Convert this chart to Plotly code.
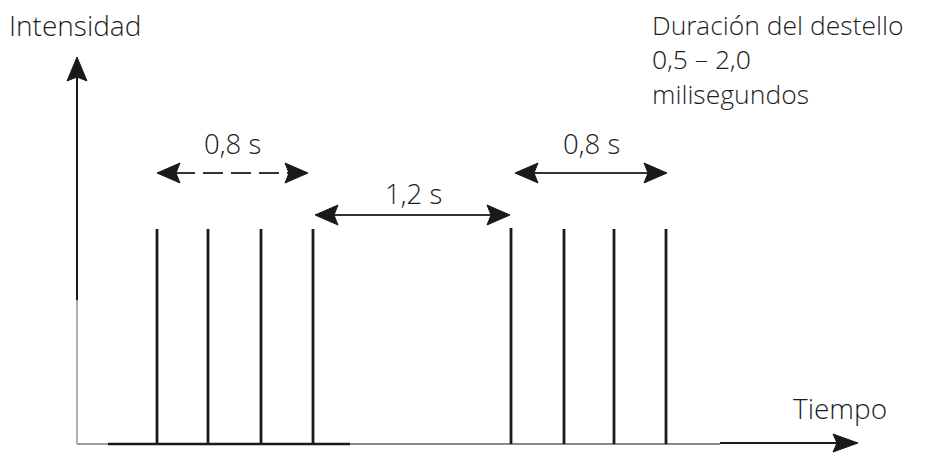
import plotly.graph_objects as go

# ---- data (schematic units: x = time position, y = intensity) ----
flash_times = [157, 208, 261, 313, 511, 564, 614, 666]
flash_intensity = [215, 215, 215, 215, 216, 215, 215, 215]

interval_start = [157, 315, 515]
interval_end = [308, 510, 667]
interval_level = [271, 229, 271]
interval_labels = ["0,8 s", "1,2 s", "0,8 s"]
interval_label_x = [232, 413, 591]
interval_label_y = [301, 251, 301]
interval_dashed = [True, False, False]

duration_lines = ["Duración del destello", "0,5 – 2,0", "milisegundos"]

axis_origin = (77, 0)
axis_x_end = 858
axis_y_end = 387

W, H = 930, 453
X_RANGE = [0, 930]
Y_RANGE = [-9, 444]

FONT = "Open Sans Light, Open Sans, Liberation Sans, Arial, sans-serif"
INK = "#1a1a1a"

fig = go.Figure()


def head(tip_x, tip_y, dx, dy, length, half, notch=4):
    # arrowhead pointing in direction (dx, dy)
    bx, by = tip_x - dx * length, tip_y - dy * length
    px, py = -dy, dx
    nx, ny = tip_x - dx * (length - notch), tip_y - dy * (length - notch)
    xs = [tip_x, bx + px * half, nx, bx - px * half, tip_x]
    ys = [tip_y, by + py * half, ny, by - py * half, tip_y]
    fig.add_trace(go.Scatter(x=xs, y=ys, mode="lines", fill="toself",
                             fillcolor=INK, line=dict(color=INK, width=1),
                             hoverinfo="skip", showlegend=False))


def seg(x0, y0, x1, y1, color=INK, width=2, dash="solid"):
    fig.add_trace(go.Scatter(x=[x0, x1], y=[y0, y1], mode="lines",
                             line=dict(color=color, width=width, dash=dash),
                             hoverinfo="skip", showlegend=False))


# ---- axes (drawn as arrows) ----
ox, oy = axis_origin
seg(ox, oy, ox, 144, color="#b0b0b0", width=2)
seg(ox, 144, ox, axis_y_end - 20, color=INK, width=2)
head(ox, axis_y_end, 0, 1, 24, 10)
seg(ox, oy, 108, oy, color="#a0a0a0", width=2)
seg(108, oy, 350, oy, color=INK, width=2.5)
seg(350, oy, 720, oy, color="#8a8a8a", width=2)
seg(720, oy + 1, axis_x_end - 20, oy + 1, color=INK, width=2)
head(axis_x_end, oy + 1, 1, 0, 25, 9)

# ---- flashes ----
fx, fy = [], []
for t, v in zip(flash_times, flash_intensity):
    fx += [t, t, None]
    fy += [0, v, None]
fig.add_trace(go.Scatter(x=fx, y=fy, mode="lines",
                         line=dict(color=INK, width=2.8),
                         hoverinfo="skip", showlegend=False))

# ---- interval arrows ----
for xs, xe, lv, dashed in zip(interval_start, interval_end, interval_level, interval_dashed):
    seg(xs + 18, lv, xe - 18, lv, color="#333333", width=2,
        dash="20px,8px" if dashed else "solid")
    head(xs, lv, -1, 0, 23, 10)
    head(xe, lv, 1, 0, 23, 10)

TXT = dict(family=FONT, size=28, color="#1e1e1e", weight=300)

annotations = []
for lx, ly, txt in zip(interval_label_x, interval_label_y, interval_labels):
    annotations.append(dict(x=lx, y=ly, text=txt, showarrow=False,
                            xanchor="center", yanchor="middle",
                            font=dict(TXT, size=27.5)))

annotations += [
    dict(x=8, y=419, text="Intensidad", showarrow=False, xanchor="left",
         yanchor="middle", borderpad=0, font=TXT),
    dict(x=791, y=36, text="Tiempo", showarrow=False, xanchor="left",
         yanchor="middle", font=TXT),
    dict(x=650, y=439, text="<br>".join(duration_lines), showarrow=False,
         xanchor="left", yanchor="top", align="left",
         font=dict(TXT, size=26.5)),
]

fig.update_layout(
    width=W, height=H,
    margin=dict(l=0, r=0, t=0, b=0),
    paper_bgcolor="white", plot_bgcolor="white",
    xaxis=dict(range=X_RANGE, visible=False, fixedrange=True),
    yaxis=dict(range=Y_RANGE, visible=False, fixedrange=True),
    annotations=annotations,
    showlegend=False,
)

fig.write_html(
    "out.html",
    config={"displayModeBar": False},
    post_script="document.body.style.margin='0px';document.body.style.overflow='hidden';",
)
